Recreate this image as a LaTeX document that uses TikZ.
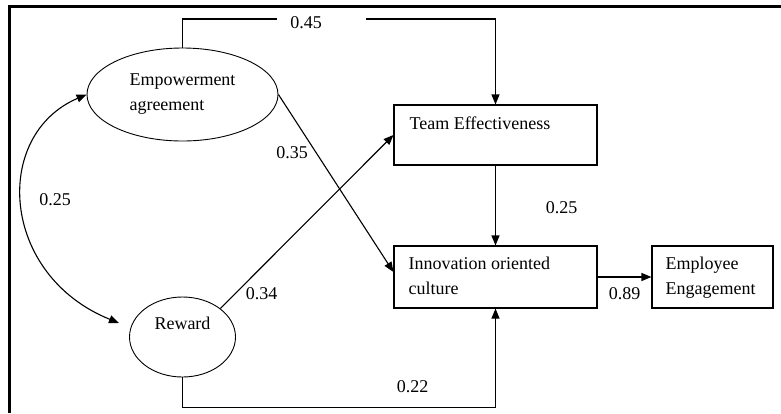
\documentclass[tikz,border=0pt]{standalone}
\usepackage{fontspec}
\setmainfont{Liberation Serif}
\usetikzlibrary{shapes.geometric,arrows.meta}
\begin{document}
\begin{tikzpicture}[x=1pt,y=-1pt, font=\fontsize{18}{25}\selectfont,
 line width=1.1pt,
 arr/.style={-{Triangle[length=10pt,width=8pt]}},
 dbl/.style={{Triangle[length=10pt,width=8pt]}-{Triangle[length=10pt,width=8pt]}},
 oval/.style={ellipse, draw, line width=0.9pt, inner sep=0pt},
 box/.style={rectangle, draw, line width=1.1pt, inner sep=0pt},
 lab/.style={anchor=base, inner sep=0pt},
 txt/.style={anchor=north west, inner sep=0pt, align=left}]
\useasboundingbox (0,0) rectangle (781,413);
\draw[line width=3pt] (9,413) -- (9,6) -- (781,6);

\node[oval, minimum width=191pt, minimum height=93pt, align=left] (emp) at (182.5,94.5) {Empowerment\\agreement};
\node[oval, minimum width=106pt, minimum height=80pt, label={[yshift=14pt, inner sep=0pt]center:Reward}] (rew) at (182.5,337) {};

\node[box, minimum width=203pt, minimum height=60pt] (team) at (495.5,135) {};
\node[txt] (teamt) at (409,116) {Team Effectiveness};
\node[box, minimum width=203pt, minimum height=62pt] (inn) at (495.5,277) {};
\node[txt] (innt) at (408,256) {Innovation oriented\\culture};
\node[box, minimum width=121pt, minimum height=62pt] (eng) at (712.5,277) {};
\node[txt] (engt) at (665,256) {Employee\\Engagement};

\node[lab] (l45) at (306,28) {0.45};
\node[lab] (l35) at (292,158) {0.35};
\node[lab] (l25a) at (55,205) {0.25};
\node[lab] (l34) at (261.5,299) {0.34};
\node[lab] (l25b) at (561.5,213) {0.25};
\node[lab] (l89) at (624.5,299) {0.89};
\node[lab] (l22) at (412.5,392) {0.22};

\coordinate (g1) at (277,19);
\coordinate (g2) at (366,19);
\draw (emp.north) |- (g1);
\draw[arr] (g2) -| (team.north);
\draw[arr] (team.south) -- (inn.north);
\draw[arr] (emp.east) -- ([yshift=5pt]inn.west);
\draw[arr] (rew.37) -- (team.west);
\draw[arr] (rew.south) -- ++(0,30) -| (inn.south);
\draw[arr] (inn.east) -- (eng.west);
\coordinate (cv) at (119,323);
\draw[dbl] (emp.west) .. controls (-8,135) and (0,275) .. (cv);
\end{tikzpicture}
\end{document}
